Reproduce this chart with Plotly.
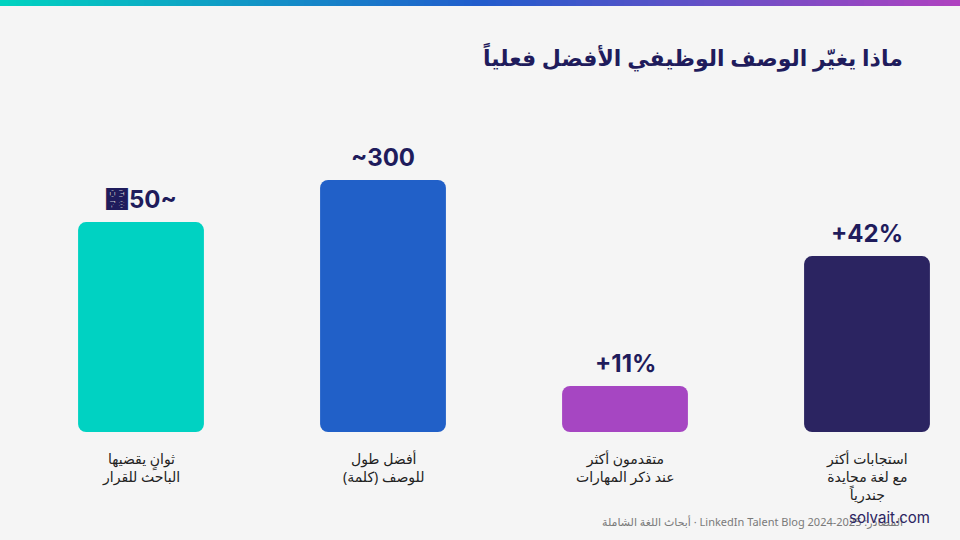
import plotly.graph_objects as go

# ---- data ----
categories = ["ثوانٍ يقضيها<br>الباحث للقرار",
              "أفضل طول<br>للوصف (كلمة)",
              "متقدمون أكثر<br>عند ذكر المهارات",
              "استجابات أكثر<br>مع لغة محايدة<br>جندرياً"]
value_labels = ["\u037850~", "~300", "+11%", "+42%"]
bar_heights = [83.3, 100, 18.3, 69.8]   # relative visual height index
bar_colors = ["#00D2C2", "#2160C8", "#A646C2", "#2B2461"]
title_text = "ماذا يغيّر الوصف الوظيفي الأفضل فعلياً"
source_text = "المصادر: LinkedIn Talent Blog 2024-2025 · أبحاث اللغة الشاملة"
brand_text = "solvait.com"

x = list(range(len(categories)))

fig = go.Figure()
fig.add_trace(go.Bar(x=x, y=bar_heights, base=[0.001] * len(x), width=0.52,
                     marker=dict(color=bar_colors, cornerradius=8, line=dict(width=0)),
                     hoverinfo="skip"))

W, H = 960, 540
T, B = 117, 108
PH = H - T - B
def py(p):  # figure pixel y -> paper y of plot area
    return (H - B - p) / PH
def px(p):
    return p / W

RLE, PDF = "\u202b", "\u202c"
NAVY = "#1F1C5C"
ann = []
for xi, h, lab, cat in zip(x, bar_heights, value_labels, categories):
    ann.append(dict(x=xi, y=h, xref="x", yref="y", text="<b>%s</b>" % lab,
                    showarrow=False, yanchor="bottom", yshift=6,
                    font=dict(family="Inter, Lato, DejaVu Sans", size=24, color=NAVY)))
    ann.append(dict(x=xi, y=0, xref="x", yref="y", text=cat, showarrow=False,
                    yanchor="top", yshift=-15,
                    font=dict(family="Noto Sans, DejaVu Sans", size=14, color="#222222")))

ann.append(dict(x=px(905), y=py(57), xref="paper", yref="paper", text="<b>%s</b>" % title_text,
                showarrow=False, xanchor="right", yanchor="middle",
                font=dict(family="Noto Sans, DejaVu Sans", size=22, color=NAVY)))
ann.append(dict(x=px(905), y=py(521), xref="paper", yref="paper",
                text=RLE + source_text + PDF,
                showarrow=False, xanchor="right", yanchor="middle",
                font=dict(family="Noto Sans, DejaVu Sans", size=11, color="#7A7A7A")))
ann.append(dict(x=px(932), y=py(517), xref="paper", yref="paper", text=brand_text,
                showarrow=False, xanchor="right", yanchor="middle",
                font=dict(family="Inter, Lato, DejaVu Sans", size=15, color="#2B2461")))

# top gradient stripe
stops = [(0.0, (0x00, 0xD4, 0xC0)), (0.5, (0x21, 0x5C, 0xCC)), (1.0, (0xB0, 0x42, 0xC0))]
def col(t):
    for (t0, c0), (t1, c1) in zip(stops[:-1], stops[1:]):
        if t0 <= t <= t1:
            f = (t - t0) / (t1 - t0)
            return "rgb(%d,%d,%d)" % tuple(round(a + (b - a) * f) for a, b in zip(c0, c1))
    return "rgb(%d,%d,%d)" % stops[-1][1]
shapes = []
N = 120
for i in range(N):
    shapes.append(dict(type="rect", xref="paper", yref="paper",
                       x0=i / N, x1=(i + 1) / N + 0.002, y0=py(6), y1=py(0),
                       fillcolor=col((i + 0.5) / N), line=dict(width=0), layer="above"))

px_per_unit = 242
fig.update_layout(
    width=W, height=H,
    margin=dict(l=0, r=0, t=T, b=B, pad=0),
    paper_bgcolor="#F5F5F5", plot_bgcolor="#F5F5F5",
    showlegend=False,
    xaxis=dict(range=[-141 / px_per_unit, (960 - 141) / px_per_unit],
               visible=False, fixedrange=True),
    yaxis=dict(range=[0, 125], visible=False, fixedrange=True),
    annotations=ann, shapes=shapes,
)
fig.write_html("out.html")
